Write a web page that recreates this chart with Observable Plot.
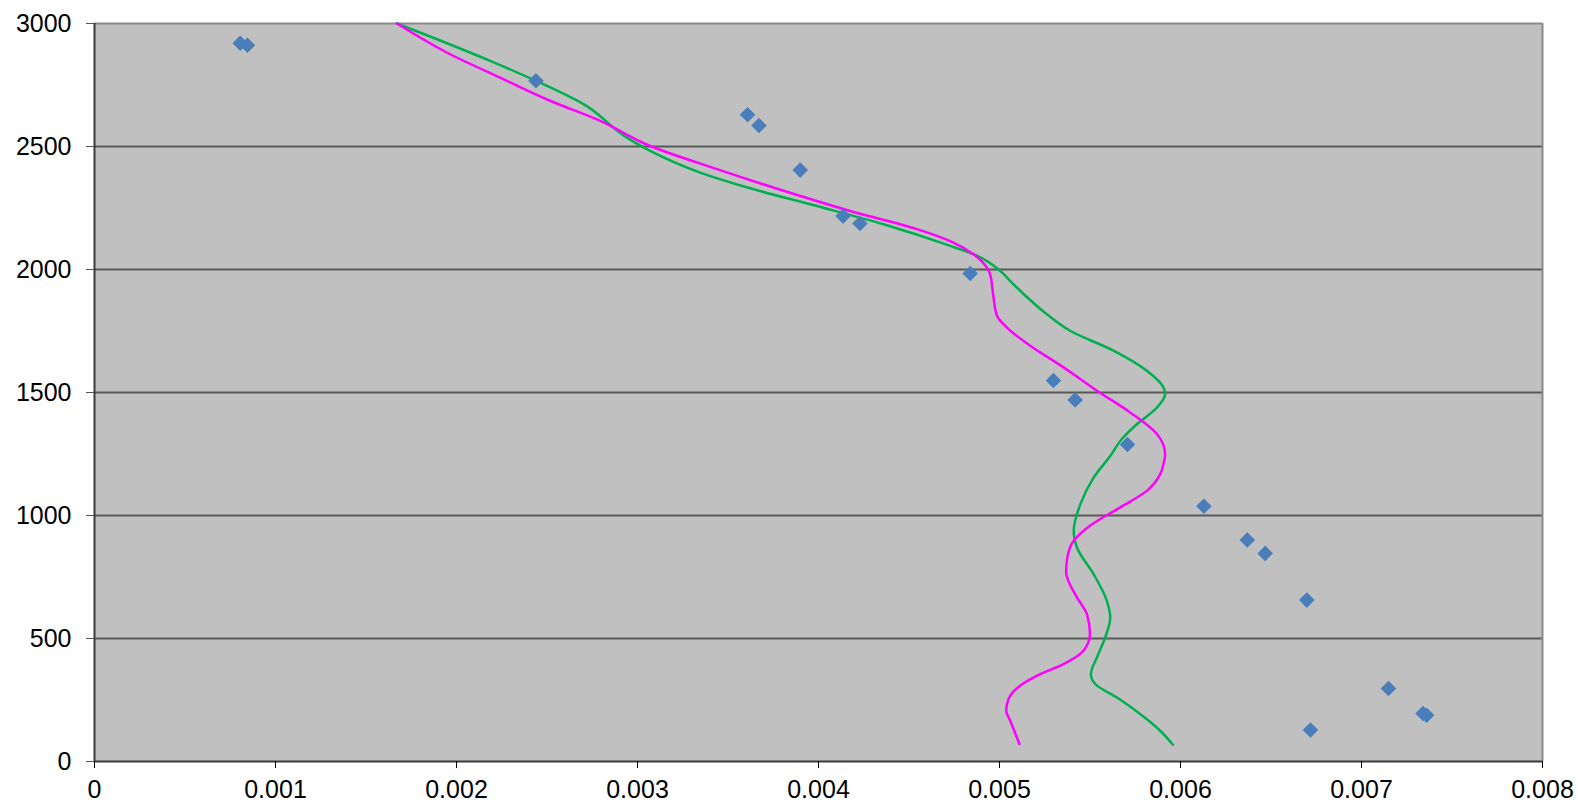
<!DOCTYPE html>
<html>
<head>
<meta charset="utf-8">
<script src="https://cdn.jsdelivr.net/npm/d3@7"></script>
<script src="https://cdn.jsdelivr.net/npm/@observablehq/plot@0.6"></script>
<style>
  html, body { margin: 0; padding: 0; background: #ffffff; }
  #chart svg { display: block; }
</style>
</head>
<body>
<div id="chart"></div>
<script>
// Observed points (diamonds)
const obsX = [0.000805, 0.000845, 0.002439, 0.003608, 0.003671, 0.003899, 0.004136, 0.004229, 0.004838,
              0.005298, 0.005418, 0.005707, 0.006129, 0.006369, 0.006468, 0.006698, 0.007149, 0.007340, 0.007360, 0.006718];
const obsY = [2920, 2912, 2767, 2629, 2585, 2404, 2217, 2187, 1984,
              1549, 1470, 1289, 1038, 900, 846, 656, 297, 195, 188, 128];

// Green model curve
const greenX = [0.001671, 0.002186, 0.002439, 0.002702, 0.002941, 0.00307, 0.003346, 0.003623, 0.003991, 0.004359,
                0.004728, 0.004875, 0.004995, 0.005077, 0.005262, 0.00539, 0.00563, 0.005814, 0.005906, 0.005915,
                0.00587, 0.005759, 0.005676, 0.005615, 0.00552, 0.005447, 0.00541, 0.005428, 0.00552,
                0.005593, 0.005612, 0.005584, 0.005538, 0.005505, 0.005529, 0.005649, 0.005777, 0.005888, 0.005958];
const greenY = [3000, 2848, 2767, 2672, 2536, 2482, 2394, 2330, 2258, 2184,
                2096, 2056, 2000, 1940, 1818, 1751, 1670, 1588, 1520, 1494,
                1439, 1371, 1311, 1245, 1154, 1046, 938, 870, 762,
                653, 585, 504, 423, 355, 315, 260, 193, 125, 68];

// Magenta model curve
const magentaX = [0.001671, 0.001965, 0.002241, 0.002517, 0.002794, 0.00307, 0.003439, 0.003807, 0.004175, 0.004544,
                  0.004728, 0.004856, 0.00493, 0.004948, 0.004967, 0.004986, 0.005041, 0.00517, 0.005354, 0.005538,
                  0.005722, 0.00587, 0.005915, 0.005906, 0.005888, 0.005814, 0.005667, 0.0055, 0.00541, 0.005375,
                  0.005368, 0.005428, 0.005483, 0.0055, 0.005464, 0.005354, 0.005225, 0.005114, 0.00505, 0.005037,
                  0.00506, 0.00511];
const magentaY = [3000, 2875, 2780, 2686, 2604, 2502, 2408, 2320, 2238, 2164,
                  2115, 2062, 2008, 1981, 1886, 1812, 1764, 1690, 1602, 1507,
                  1419, 1331, 1250, 1209, 1168, 1100, 1033, 958, 897, 830,
                  770, 667, 599, 518, 450, 396, 355, 308, 254, 206,
                  165, 71];

// Axis ticks and labels
const xTicks = [0, 0.001, 0.002, 0.003, 0.004, 0.005, 0.006, 0.007, 0.008];
const xTickLabels = ["0", "0.001", "0.002", "0.003", "0.004", "0.005", "0.006", "0.007", "0.008"];
const yTicks = [0, 500, 1000, 1500, 2000, 2500, 3000];
const yTickLabels = ["0", "500", "1000", "1500", "2000", "2500", "3000"];

const obs = obsX.map((x, i) => ({x, y: obsY[i]}));
const green = greenX.map((x, i) => ({x, y: greenY[i]}));
const magenta = magentaX.map((x, i) => ({x, y: magentaY[i]}));

const chart = Plot.plot({
  width: 1578,
  height: 806,
  marginLeft: 94,
  marginRight: 36,
  marginTop: 23,
  marginBottom: 45,
  style: {fontFamily: "'Liberation Sans', Arial, sans-serif", fontSize: "25px", color: "#000", background: "#ffffff"},
  x: {domain: [0, 0.008]},
  y: {domain: [0, 3000]},
  marks: [
    Plot.frame({fill: "#C0C0C0", stroke: null}),
    Plot.ruleY(yTicks.filter(d => d > 0 && d < 3000), {stroke: "#595959", strokeWidth: 2}),
    Plot.ruleY([3000], {stroke: "#8a8a8a", strokeWidth: 2}),
    Plot.ruleX([0.008], {stroke: "#8a8a8a", strokeWidth: 2}),
    Plot.ruleX([0], {stroke: "#3a3a3a", strokeWidth: 2}),
    Plot.ruleY([0], {stroke: "#3a3a3a", strokeWidth: 2}),
    Plot.axisX({ticks: xTicks, tickFormat: (d) => xTickLabels[xTicks.indexOf(d)], tickSize: 7, tickPadding: 12, stroke: "#000", label: null, fontSize: 25}),
    Plot.axisY({ticks: yTicks, tickFormat: (d) => yTickLabels[yTicks.indexOf(d)], tickSize: 8, tickPadding: 15, stroke: "#555", label: null, fontSize: 25}),
    Plot.line(green, {x: "x", y: "y", stroke: "#00B050", strokeWidth: 2.5, curve: "monotone-y"}),
    Plot.line(magenta, {x: "x", y: "y", stroke: "#FF00FF", strokeWidth: 2.5, curve: "monotone-y"}),
    Plot.dot(obs, {x: "x", y: "y", symbol: "diamond2", r: 7, fill: "#4A7EBB", stroke: null})
  ]
});
document.getElementById("chart").appendChild(chart);
</script>
</body>
</html>
